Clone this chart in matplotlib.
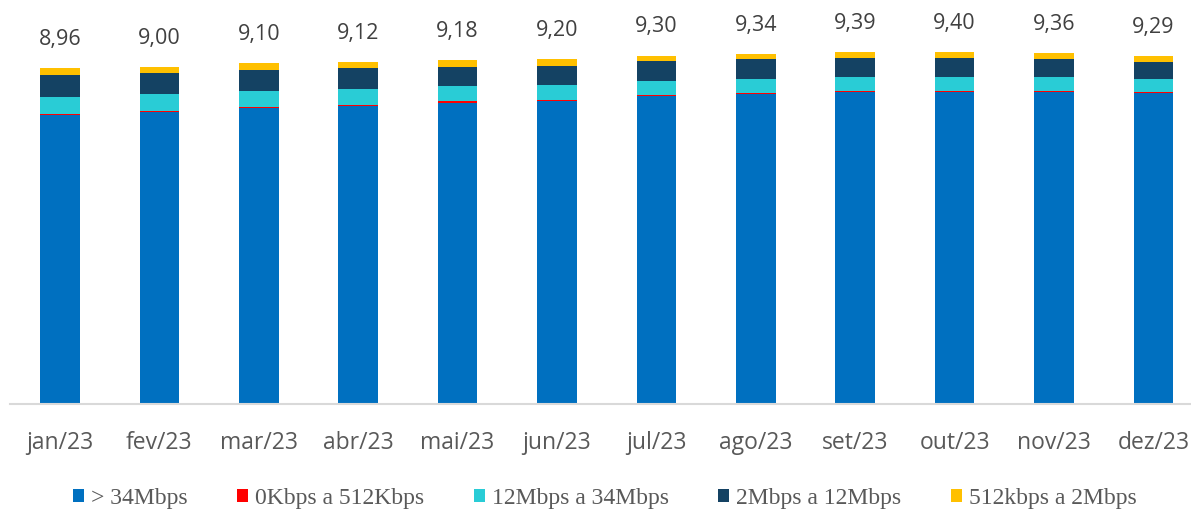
import matplotlib
matplotlib.use("Agg")
import matplotlib.pyplot as plt
from matplotlib.patches import Patch
import numpy as np

months = ["jan/23", "fev/23", "mar/23", "abr/23", "mai/23", "jun/23",
          "jul/23", "ago/23", "set/23", "out/23", "nov/23", "dez/23"]
totals = [8.96, 9.00, 9.10, 9.12, 9.18, 9.20, 9.30, 9.34, 9.39, 9.40, 9.36, 9.29]
total_labels = ["8,96", "9,00", "9,10", "9,12", "9,18", "9,20",
                "9,30", "9,34", "9,39", "9,40", "9,36", "9,29"]

s_gt34 = [7.71, 7.79, 7.90, 7.95, 8.05, 8.09, 8.22, 8.28, 8.34, 8.34, 8.33, 8.31]
s_0_512k = [0.03, 0.03, 0.03, 0.03, 0.03, 0.03, 0.03, 0.03, 0.03, 0.03, 0.03, 0.03]
s_12_34 = [0.47, 0.46, 0.43, 0.44, 0.40, 0.39, 0.37, 0.37, 0.36, 0.37, 0.36, 0.34]
s_2_12 = [0.58, 0.56, 0.57, 0.54, 0.53, 0.52, 0.53, 0.53, 0.52, 0.50, 0.49, 0.46]
s_512k_2 = [0.17, 0.16, 0.17, 0.16, 0.17, 0.17, 0.15, 0.13, 0.14, 0.16, 0.15, 0.15]

series = [
    ("> 34Mbps", s_gt34, "#0070C0"),
    ("0Kbps a 512Kbps", s_0_512k, "#FF0000"),
    ("12Mbps a 34Mbps", s_12_34, "#29CCD6"),
    ("2Mbps a 12Mbps", s_2_12, "#144263"),
    ("512kbps a 2Mbps", s_512k_2, "#FFC000"),
]

W, H = 1191, 510
fig = plt.figure(figsize=(W / 100, H / 100), dpi=100)
ax_left = 10.3 / W
ax_w = 12 * 99.4 / W
ax_bottom = 105 / H
ax_h = 374.5 / H
ax = fig.add_axes([ax_left, ax_bottom, ax_w, ax_h])

x = np.arange(len(months))
bottom = np.zeros(len(months))
for name, vals, col in series:
    ax.bar(x, vals, width=0.40, bottom=bottom, color=col, label=name,
           edgecolor="none", zorder=2)
    bottom += np.array(vals)

for xi, t, lab in zip(x, totals, total_labels):
    ax.annotate(lab, (xi, t), xytext=(0, 14), textcoords="offset points",
                ha="center", va="bottom", fontsize=15.5, color="#404040",
                family="Open Sans", annotation_clip=False)

ax.set_xlim(-0.5, 11.5)
ax.set_ylim(0, 10)
ax.set_yticks([])
for s in ["top", "right", "left"]:
    ax.spines[s].set_visible(False)
ax.spines["bottom"].set_color("#D9D9D9")
ax.spines["bottom"].set_linewidth(1.5)
ax.set_xticks(x)
ax.set_xticklabels(months, fontsize=16.5, color="#595959", family="Open Sans")
ax.tick_params(axis="x", length=0, pad=18.5)

handles = [Patch(facecolor=c, edgecolor="none") for _, _, c in series]
labels = [n for n, _, _ in series]
fig.legend(handles, labels, loc="center", bbox_to_anchor=(605 / W, 1 - 499 / H),
           ncol=5, frameon=False, prop={"family": "Liberation Serif", "size": 17},
           handlelength=0.46, handleheight=0.46, handletextpad=0.3,
           columnspacing=2.1, labelcolor="#595959", borderpad=0.2)

fig.savefig("out.png", dpi=100)
